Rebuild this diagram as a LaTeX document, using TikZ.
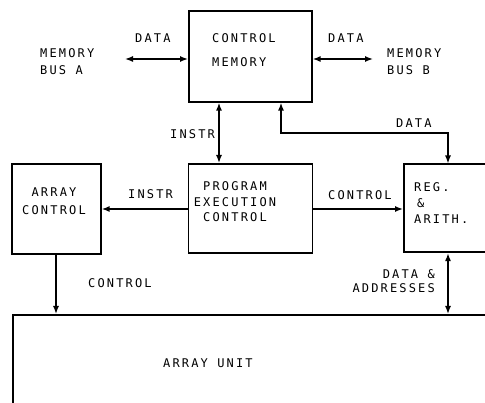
\documentclass[tikz,border=0pt]{standalone}
\usepackage{fontspec}
\newfontfamily\labfont[LetterSpace=18]{DejaVu Sans Mono}
\usetikzlibrary{arrows.meta}
\tikzset{
  box/.style={draw, line width=1.6pt, rectangle, inner sep=0pt, anchor=north west},
  lab/.style={inner sep=0pt, font=\labfont\fontsize{12}{16.5}\selectfont},
  conn/.style={line width=1.4pt, arrows={-Latex[length=8pt,width=6pt]}},
  dconn/.style={line width=1.4pt, arrows={Latex[length=8pt,width=6pt]-Latex[length=8pt,width=6pt]}},
}
\begin{document}
\begin{tikzpicture}[x=1pt,y=-1pt]
\useasboundingbox (0,0) rectangle (485,403);
\clip (0,0) rectangle (485,403);
% boxes
\node[box, minimum width=123pt, minimum height=91pt] (cm) at (188,10) {};
\node[box, minimum width=89pt, minimum height=90pt] (ac) at (11,163.5) {};
\node[box, minimum width=124pt, minimum height=89pt] (pec) at (187.5,163) {};
\node[box, minimum width=100pt, minimum height=88pt] (reg) at (403,163.5) {};
\node[box, minimum width=490pt, minimum height=120pt] (au) at (12,314) {};
% labels
\node[lab, anchor=north west, align=left] (mba) at (40,48.5) {MEMORY\\BUS A};
\node[lab, anchor=north west] (dl) at (135,33.5) {DATA};
\node[lab, anchor=north west, align=left, font=\labfont\fontsize{12}{23.5}\selectfont] (cmt) at (212,33.5) {CONTROL\\MEMORY};
\node[lab, anchor=north west] (dr) at (328,33.5) {DATA};
\node[lab, anchor=north west, align=left] (mbb) at (387,48.5) {MEMORY\\BUS B};
\node[lab, anchor=north west] (i1) at (170,129.5) {INSTR};
\node[lab, anchor=north west] (d2) at (396,118.5) {DATA};
\node[lab, anchor=north, align=center, font=\labfont\fontsize{12}{17.5}\selectfont] (act) at (54,188) {ARRAY\\CONTROL};
\node[lab, anchor=north west] (i2) at (128,189) {INSTR};
\node[lab, anchor=north, align=center, font=\labfont\fontsize{12}{15.5}\selectfont] (pect) at (235,181.5) {PROGRAM\\EXECUTION\\CONTROL};
\node[lab, anchor=north west] (c1) at (328,190) {CONTROL};
\node[lab, anchor=north west, align=left, font=\labfont\fontsize{12}{16}\selectfont] (regt) at (414,182.5) {REG.\\\hspace*{3pt}\&\\ARITH.};
\node[lab, anchor=north west] (c2) at (88,278.5) {CONTROL};
\node[lab, anchor=north east, align=right, font=\labfont\fontsize{12}{14}\selectfont] (dat) at (435,269.5) {DATA \&\\ADDRESSES};
\node[lab, anchor=north west] (aut) at (163,358.5) {ARRAY UNIT};
% free ends and bends
\coordinate (ea) at (125,59);
\coordinate (eb) at (373,59);
\coordinate (ix) at (219,0);
\coordinate (dx) at (281,0);
\coordinate (rx) at (448,0);
\coordinate (ax) at (56,0);
\coordinate (dy) at (0,133);
% connectors
\draw[dconn] (ea) -- (ea -| cm.west);
\draw[dconn] (eb -| cm.east) -- (eb);
\draw[dconn] (ix |- cm.south) -- (ix |- pec.north);
\draw[line width=1.4pt, arrows={Latex[length=8pt,width=6pt]-Latex[length=8pt,width=6pt]}] (dx |- cm.south) -- (dx |- dy) -- (rx |- dy) -- (rx |- reg.north);
\draw[conn] (pec.west |- 0,209) -- (ac.east |- 0,209);
\draw[conn] (pec.east |- 0,209) -- (reg.west |- 0,209);
\draw[conn] (ax |- ac.south) -- (ax |- au.north);
\draw[dconn] (rx |- reg.south) -- (rx |- au.north);
\end{tikzpicture}
\end{document}
